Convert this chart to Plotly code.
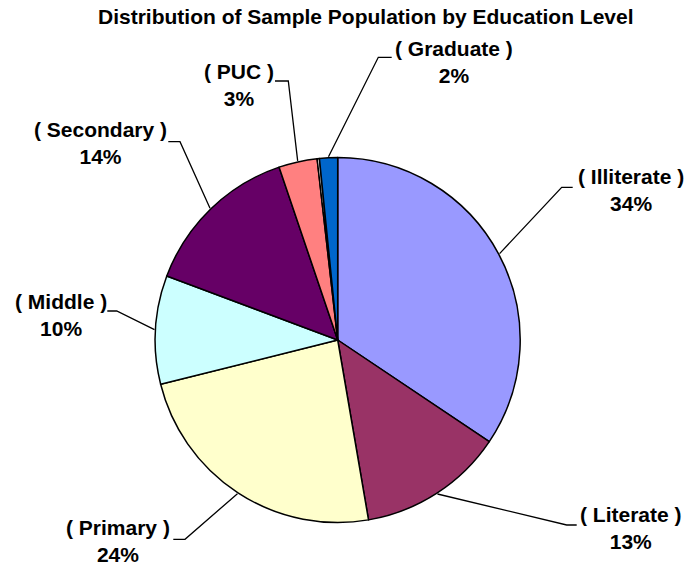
import math
import plotly.graph_objects as go

W, H = 686, 567

# ---- data ----
categories = ["( Illiterate )", "( Literate )", "( Primary )", "( Middle )",
              "( Secondary )", "( PUC )", "( Other )", "( Graduate )"]
values = [34.4, 12.9, 23.8, 9.6, 14.1, 3.4, 0.2, 1.6]
colors = ["#9999FF", "#993366", "#FFFFCC", "#CCFFFF",
          "#660066", "#FF8080", "#FFFFFF", "#0066CC"]
labelled = [True, True, True, True, True, True, False, True]

title_text = "Distribution of Sample Population by Education Level"

# ---- layout constants (pixels) ----
CX, CY, R = 337.7, 340.0, 182.5
# label centre (x, y of text block), elbow point, end of horizontal tick
label_layout = {
    "( Illiterate )": dict(tx=630.5, ty=190, elbow=(561.7, 187.3), end=(572.7, 187.3)),
    "( Literate )":   dict(tx=631.0, ty=528, elbow=(566.7, 525.0), end=(576.7, 525.0)),
    "( Primary )":    dict(tx=117.5, ty=541, elbow=(185.0, 539.3), end=(173.3, 539.3)),
    "( Middle )":     dict(tx=60.5,  ty=315, elbow=(116.7, 311.0), end=(107.3, 311.0)),
    "( Secondary )":  dict(tx=100.0, ty=143, elbow=(180.0, 141.7), end=(168.3, 141.7)),
    "( PUC )":        dict(tx=239.0, ty=85,  elbow=(288.3, 81.0),  end=(275.0, 81.0)),
    "( Graduate )":   dict(tx=453.5, ty=62,  elbow=(378.3, 57.3),  end=(391.7, 57.3)),
}


def px(x):
    return x / W


def py(y):
    return 1 - y / H


fig = go.Figure()
fig.add_trace(go.Pie(
    labels=categories,
    values=values,
    sort=False,
    direction="clockwise",
    rotation=0,
    textinfo="none",
    hoverinfo="label+percent",
    marker=dict(colors=colors, line=dict(color="#000000", width=1.5)),
    domain=dict(x=[px(CX - R), px(CX + R)], y=[py(CY + R), py(CY - R)]),
    showlegend=False,
))

total = sum(values)
cum = 0.0
shapes = []
annotations = []
font = dict(family="Liberation Sans, Arial, sans-serif", size=21, color="#000000")
for cat, v, show in zip(categories, values, labelled):
    mid = (cum + v / 2) / total * 2 * math.pi
    cum += v
    if not show:
        continue
    lay = label_layout[cat]
    sx = CX + (R + 1) * math.sin(mid)
    sy = CY - (R + 1) * math.cos(mid)
    ex, ey = lay["elbow"]
    hx, hy = lay["end"]
    path = f"M {px(sx)},{py(sy)} L {px(ex)},{py(ey)} L {px(hx)},{py(hy)}"
    shapes.append(dict(type="path", xref="paper", yref="paper", path=path,
                       line=dict(color="#000000", width=1.3)))
    pct = round(v / total * 100)
    annotations.append(dict(
        x=px(lay["tx"]), y=py(lay["ty"]), xref="paper", yref="paper",
        xanchor="center", yanchor="middle", showarrow=False, align="center",
        text=f"<b>{cat}</b><br><b>{pct}%</b>", font=font,
    ))

annotations.append(dict(
    x=px(366), y=py(16), xref="paper", yref="paper",
    xanchor="center", yanchor="middle", showarrow=False,
    text=f"<b>{title_text}</b>", font=font,
))

fig.update_layout(
    width=W, height=H,
    margin=dict(l=0, r=0, t=0, b=0),
    paper_bgcolor="#FFFFFF",
    plot_bgcolor="#FFFFFF",
    shapes=shapes,
    annotations=annotations,
)

fig.write_html("out.html")
